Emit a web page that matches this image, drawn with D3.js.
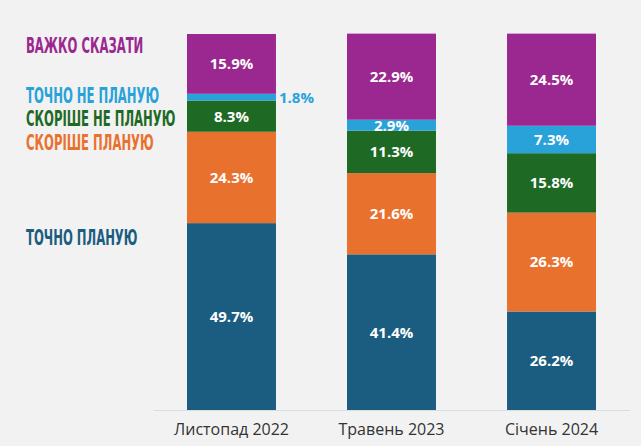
<!DOCTYPE html>
<html><head><meta charset="utf-8">
<script src="https://cdn.jsdelivr.net/npm/d3@7"></script>
<style>
html,body{margin:0;padding:0;background:#f2f2f2;}
svg{display:block;}
</style></head>
<body>
<svg id="chart" width="641" height="446"></svg>
<script>
const categories = ["Листопад 2022", "Травень 2023", "Січень 2024"];
const seriesNames = ["ТОЧНО ПЛАНУЮ", "СКОРІШЕ ПЛАНУЮ", "СКОРІШЕ НЕ ПЛАНУЮ", "ТОЧНО НЕ ПЛАНУЮ", "ВАЖКО СКАЗАТИ"];
const tochnoPlanuyu = [49.7, 41.4, 26.2];
const skorishePlanuyu = [24.3, 21.6, 26.3];
const skorisheNePlanuyu = [8.3, 11.3, 15.8];
const tochnoNePlanuyu = [1.8, 2.9, 7.3];
const vazhkoSkazaty = [15.9, 22.9, 24.5];
const seriesColors = ["#1b5d80", "#e9712e", "#1e6a24", "#29a2da", "#9b2790"];

const series = [tochnoPlanuyu, skorishePlanuyu, skorisheNePlanuyu, tochnoNePlanuyu, vazhkoSkazaty];
const rows = categories.map((c, i) => {
  const r = {cat: c};
  seriesNames.forEach((s, j) => r[s] = series[j][i]);
  return r;
});
const stack = d3.stack().keys(seriesNames)(rows);

const svg = d3.select("#chart");
const x = d3.scaleBand().domain(categories).range([153, 630]).paddingInner(0.444).paddingOuter(0.2125);
const y = d3.scaleLinear().domain([0, 100]).range([410, 34]);

// bars
const g = svg.append("g");
stack.forEach((layer, j) => {
  g.selectAll(null).data(layer).enter().append("rect")
    .attr("x", d => x(d.data.cat))
    .attr("width", x.bandwidth())
    .attr("y", d => y(d[1]))
    .attr("height", d => y(d[0]) - y(d[1]))
    .attr("fill", seriesColors[j]);
});

// value labels
stack.forEach((layer, j) => {
  layer.forEach(d => {
    const v = d.data[layer.key];
    const small = (y(d[0]) - y(d[1])) < 10;
    svg.append("text")
      .attr("x", small ? x(d.data.cat) + x.bandwidth() + 3 : x(d.data.cat) + x.bandwidth() / 2)
      .attr("y", (y(d[0]) + y(d[1])) / 2)
      .attr("dy", "0.36em")
      .attr("text-anchor", small ? "start" : "middle")
      .attr("fill", small ? seriesColors[j] : "#ffffff")
      .style("font-family", "'Open Sans', sans-serif")
      .style("font-weight", "700")
      .style("font-size", "15px")
      .text(v.toFixed(1) + "%");
  });
});

// x axis
const xAxis = svg.append("g").attr("transform", "translate(0,410)")
  .call(d3.axisBottom(x).tickSize(0).tickPadding(14));
xAxis.select(".domain").attr("stroke", "#dcdcdc").attr("stroke-width", 1.2);
xAxis.selectAll("text")
  .style("font-family", "'Open Sans', sans-serif")
  .style("font-size", "16px")
  .attr("fill", "#333");

// legend labels
const legendY = [237, 142, 118, 95, 45];
seriesNames.forEach((s, j) => {
  const t = svg.append("text")
    .attr("x", 0).attr("y", 0)
    .attr("dy", "0.36em")
    .attr("fill", seriesColors[j])
    .style("font-family", "'DejaVu Sans Condensed', 'DejaVu Sans', sans-serif")
    .style("font-weight", "700")
    .style("font-size", "21px")
    .text(s);
  t.attr("transform", `translate(26,${legendY[j]}) scale(0.615,1)`);
});
</script>
</body></html>
